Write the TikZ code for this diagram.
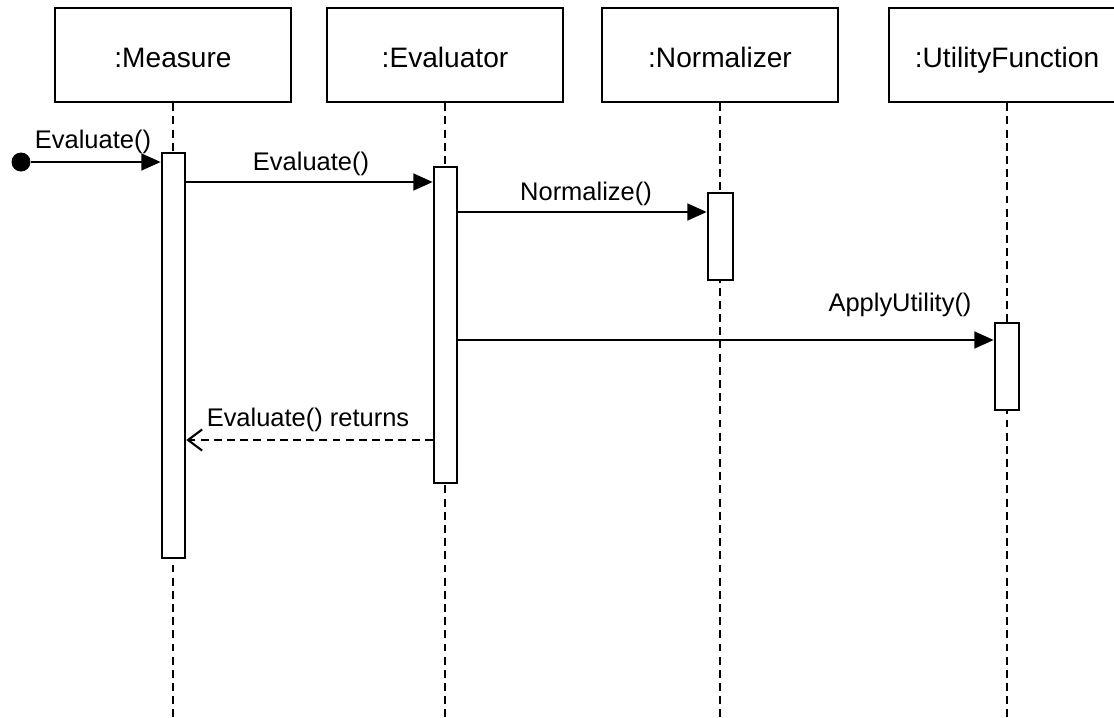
\documentclass[tikz,border=0pt]{standalone}
\usepackage{fontspec}
\setmainfont{Liberation Sans}
\usetikzlibrary{arrows.meta}
\begin{document}
\begin{tikzpicture}[x=0.02cm,y=-0.02cm,
  head/.style={draw, line width=1.5pt, minimum width=4.72cm, minimum height=1.88cm, inner sep=0pt},
  headtext/.style={font=\fontsize{16}{19}\selectfont, inner sep=0pt, anchor=base},
  bar/.style={draw, fill=white, line width=1.5pt, minimum width=0.46cm, inner sep=0pt},
  life/.style={line width=1.4pt, dash pattern=on 4.5pt off 3pt},
  msg/.style={line width=1.4pt, -{Triangle[length=11pt,width=9.5pt]}},
  ret/.style={line width=1.2pt, dash pattern=on 4.5pt off 3pt, -{Straight Barb[length=8pt,width=12pt]}},
  lbl/.style={font=\fontsize{14.5}{17}\selectfont, inner sep=0pt, anchor=base}]
\useasboundingbox (0,0) rectangle (1114,717);
\begin{scope}
\clip (0,0) rectangle (1114,717);
% headers
\node[head] (hm) at (173,55) {};
\node[head] (he) at (445,55) {};
\node[head] (hn) at (720,55) {};
\node[head] (hu) at (1007,55) {};
\node[headtext] (hmt) at (173,67) {:Measure};
\node[headtext] (het) at (445,67) {:Evaluator};
\node[headtext] (hnt) at (720,67) {:Normalizer};
\node[headtext] (hut) at (1007,67) {:UtilityFunction};
\coordinate (bm) at (173,717);
\coordinate (be) at (445,717);
\coordinate (bn) at (720,717);
\coordinate (bu) at (1007,717);
% lifelines
\draw[life] (hm.south) -- (bm);
\draw[life] (he.south) -- (be);
\draw[life] (hn.south) -- (bn);
\draw[life] (hu.south) -- (bu);
\end{scope}
% activation bars
\node[bar, minimum height=8.1cm] (am) at (173.5,355.5) {};
\node[bar, minimum height=6.32cm] (ae) at (445.5,325) {};
\node[bar, minimum width=0.5cm, minimum height=1.74cm] (an) at (720.5,236.5) {};
\node[bar, minimum width=0.48cm, minimum height=1.74cm] (au) at (1007,366.5) {};
% found message
\node[circle, fill=black, minimum size=0.38cm, inner sep=0pt] (start) at (21,162) {};
\draw[msg] (start.east) -- (am.west |- start.east);
\node[lbl] (l0) at (93,148) {Evaluate()};
% messages
\draw[msg] (am.east |- 0,182) -- (ae.west |- 0,182);
\node[lbl] (l1) at (311,170) {Evaluate()};
\draw[msg] (ae.east |- 0,212) -- (an.west |- 0,212);
\node[lbl] (l2) at (586,200) {Normalize()};
\draw[msg] (ae.east |- 0,340) -- (au.west |- 0,340);
\node[lbl] (l3) at (900,311) {ApplyUtility()};
\draw[ret] (ae.west |- 0,440) -- (am.east |- 0,440);
\node[lbl] (l4) at (308,426) {Evaluate() returns};
\end{tikzpicture}
\end{document}
